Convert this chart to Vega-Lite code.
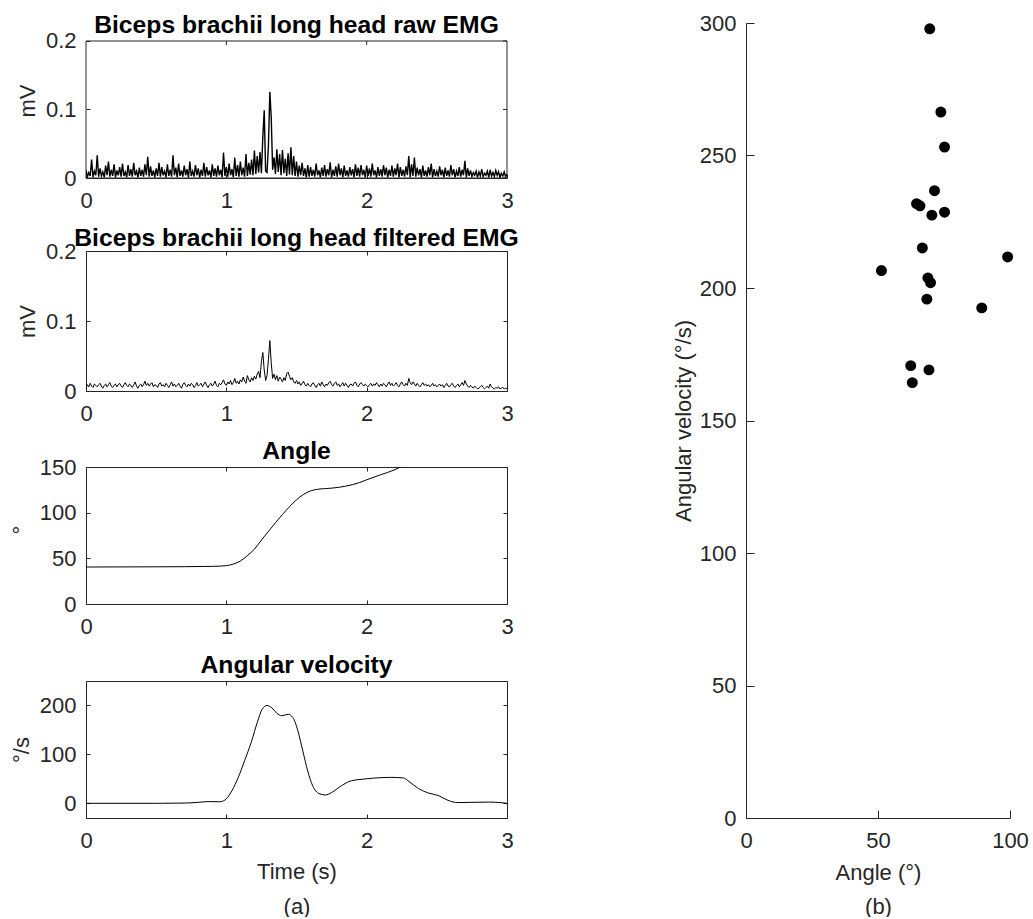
{
"$schema": "https://vega.github.io/schema/vega-lite/v6.json",
"padding": {"left": 10, "top": 12, "right": 5, "bottom": 0},
"config": {
  "font": "Liberation Sans",
  "view": {"stroke": null},
  "axis": {"grid": false, "domainColor": "#262626", "tickColor": "#262626", "labelColor": "#262626", "titleColor": "#262626", "labelFontSize": 22, "titleFontSize": 22, "titleFontWeight": "normal", "labelFlush": false, "labelOverlap": false, "domainWidth": 1, "tickWidth": 1},
  "title": {"fontSize": 24.7, "fontWeight": "bold", "color": "#000000", "offset": -8}
},
"datasets": {
"emg": [
{"t":0.00,"r":0.012,"f":0.004},{"t":0.01,"r":0.002,"f":0.009},{"t":0.02,"r":0.008,"f":0.006},{"t":0.03,"r":0.003,"f":0.011},{"t":0.04,"r":0.027,"f":0.007},{"t":0.05,"r":0.001,"f":0.005},{"t":0.06,"r":0.010,"f":0.010},{"t":0.07,"r":0.004,"f":0.008},{"t":0.08,"r":0.033,"f":0.006},{"t":0.09,"r":0.002,"f":0.009},
{"t":0.10,"r":0.014,"f":0.011},{"t":0.11,"r":0.003,"f":0.007},{"t":0.12,"r":0.009,"f":0.004},{"t":0.13,"r":0.001,"f":0.008},{"t":0.14,"r":0.018,"f":0.010},{"t":0.15,"r":0.004,"f":0.006},{"t":0.16,"r":0.024,"f":0.009},{"t":0.17,"r":0.002,"f":0.012},{"t":0.18,"r":0.012,"f":0.007},{"t":0.19,"r":0.003,"f":0.005},
{"t":0.20,"r":0.020,"f":0.008},{"t":0.21,"r":0.001,"f":0.010},{"t":0.22,"r":0.011,"f":0.006},{"t":0.23,"r":0.004,"f":0.009},{"t":0.24,"r":0.016,"f":0.011},{"t":0.25,"r":0.002,"f":0.007},{"t":0.26,"r":0.021,"f":0.005},{"t":0.27,"r":0.003,"f":0.009},{"t":0.28,"r":0.009,"f":0.012},{"t":0.29,"r":0.001,"f":0.008},
{"t":0.30,"r":0.019,"f":0.006},{"t":0.31,"r":0.003,"f":0.010},{"t":0.32,"r":0.013,"f":0.008},{"t":0.33,"r":0.002,"f":0.005},{"t":0.34,"r":0.022,"f":0.009},{"t":0.35,"r":0.004,"f":0.013},{"t":0.36,"r":0.010,"f":0.007},{"t":0.37,"r":0.001,"f":0.004},{"t":0.38,"r":0.015,"f":0.008},{"t":0.39,"r":0.003,"f":0.010},
{"t":0.40,"r":0.012,"f":0.006},{"t":0.41,"r":0.002,"f":0.009},{"t":0.42,"r":0.020,"f":0.014},{"t":0.43,"r":0.004,"f":0.008},{"t":0.44,"r":0.031,"f":0.011},{"t":0.45,"r":0.002,"f":0.007},{"t":0.46,"r":0.017,"f":0.010},{"t":0.47,"r":0.003,"f":0.012},{"t":0.48,"r":0.011,"f":0.006},{"t":0.49,"r":0.001,"f":0.009},
{"t":0.50,"r":0.014,"f":0.008},{"t":0.51,"r":0.003,"f":0.005},{"t":0.52,"r":0.022,"f":0.010},{"t":0.53,"r":0.002,"f":0.012},{"t":0.54,"r":0.016,"f":0.007},{"t":0.55,"r":0.004,"f":0.009},{"t":0.56,"r":0.010,"f":0.006},{"t":0.57,"r":0.001,"f":0.011},{"t":0.58,"r":0.020,"f":0.008},{"t":0.59,"r":0.003,"f":0.005},
{"t":0.60,"r":0.012,"f":0.009},{"t":0.61,"r":0.002,"f":0.013},{"t":0.62,"r":0.033,"f":0.007},{"t":0.63,"r":0.004,"f":0.010},{"t":0.64,"r":0.015,"f":0.006},{"t":0.65,"r":0.001,"f":0.008},{"t":0.66,"r":0.021,"f":0.011},{"t":0.67,"r":0.003,"f":0.007},{"t":0.68,"r":0.011,"f":0.004},{"t":0.69,"r":0.002,"f":0.009},
{"t":0.70,"r":0.018,"f":0.012},{"t":0.71,"r":0.004,"f":0.008},{"t":0.72,"r":0.013,"f":0.006},{"t":0.73,"r":0.001,"f":0.010},{"t":0.74,"r":0.024,"f":0.007},{"t":0.75,"r":0.003,"f":0.011},{"t":0.76,"r":0.010,"f":0.009},{"t":0.77,"r":0.002,"f":0.005},{"t":0.78,"r":0.019,"f":0.008},{"t":0.79,"r":0.004,"f":0.012},
{"t":0.80,"r":0.014,"f":0.007},{"t":0.81,"r":0.001,"f":0.009},{"t":0.82,"r":0.012,"f":0.011},{"t":0.83,"r":0.003,"f":0.006},{"t":0.84,"r":0.022,"f":0.010},{"t":0.85,"r":0.002,"f":0.013},{"t":0.86,"r":0.016,"f":0.008},{"t":0.87,"r":0.004,"f":0.005},{"t":0.88,"r":0.011,"f":0.009},{"t":0.89,"r":0.001,"f":0.011},
{"t":0.90,"r":0.020,"f":0.007},{"t":0.91,"r":0.003,"f":0.010},{"t":0.92,"r":0.014,"f":0.014},{"t":0.93,"r":0.002,"f":0.008},{"t":0.94,"r":0.018,"f":0.006},{"t":0.95,"r":0.004,"f":0.011},{"t":0.96,"r":0.012,"f":0.009},{"t":0.97,"r":0.001,"f":0.012},{"t":0.98,"r":0.037,"f":0.016},{"t":0.99,"r":0.003,"f":0.010},
{"t":1.00,"r":0.016,"f":0.008},{"t":1.01,"r":0.002,"f":0.013},{"t":1.02,"r":0.021,"f":0.010},{"t":1.03,"r":0.004,"f":0.015},{"t":1.04,"r":0.013,"f":0.009},{"t":1.05,"r":0.001,"f":0.012},{"t":1.06,"r":0.030,"f":0.018},{"t":1.07,"r":0.003,"f":0.011},{"t":1.08,"r":0.019,"f":0.014},{"t":1.09,"r":0.002,"f":0.010},
{"t":1.10,"r":0.024,"f":0.016},{"t":1.11,"r":0.004,"f":0.013},{"t":1.12,"r":0.015,"f":0.020},{"t":1.13,"r":0.002,"f":0.014},{"t":1.14,"r":0.035,"f":0.011},{"t":1.15,"r":0.003,"f":0.022},{"t":1.16,"r":0.022,"f":0.016},{"t":1.17,"r":0.005,"f":0.013},{"t":1.18,"r":0.027,"f":0.019},{"t":1.19,"r":0.004,"f":0.015},
{"t":1.20,"r":0.040,"f":0.021},{"t":1.21,"r":0.006,"f":0.017},{"t":1.22,"r":0.032,"f":0.024},{"t":1.23,"r":0.008,"f":0.028},{"t":1.24,"r":0.038,"f":0.019},{"t":1.25,"r":0.007,"f":0.042},{"t":1.26,"r":0.060,"f":0.055},{"t":1.27,"r":0.099,"f":0.030},{"t":1.28,"r":0.010,"f":0.015},{"t":1.29,"r":0.008,"f":0.022},
{"t":1.30,"r":0.048,"f":0.045},{"t":1.31,"r":0.126,"f":0.072},{"t":1.32,"r":0.088,"f":0.040},{"t":1.33,"r":0.012,"f":0.018},{"t":1.34,"r":0.030,"f":0.024},{"t":1.35,"r":0.006,"f":0.016},{"t":1.36,"r":0.042,"f":0.022},{"t":1.37,"r":0.009,"f":0.014},{"t":1.38,"r":0.035,"f":0.020},{"t":1.39,"r":0.004,"f":0.017},
{"t":1.40,"r":0.041,"f":0.013},{"t":1.41,"r":0.007,"f":0.019},{"t":1.42,"r":0.028,"f":0.015},{"t":1.43,"r":0.003,"f":0.025},{"t":1.44,"r":0.036,"f":0.027},{"t":1.45,"r":0.005,"f":0.021},{"t":1.46,"r":0.045,"f":0.016},{"t":1.47,"r":0.004,"f":0.019},{"t":1.48,"r":0.032,"f":0.013},{"t":1.49,"r":0.003,"f":0.011},
{"t":1.50,"r":0.024,"f":0.015},{"t":1.51,"r":0.002,"f":0.010},{"t":1.52,"r":0.018,"f":0.013},{"t":1.53,"r":0.004,"f":0.008},{"t":1.54,"r":0.022,"f":0.011},{"t":1.55,"r":0.003,"f":0.014},{"t":1.56,"r":0.014,"f":0.009},{"t":1.57,"r":0.001,"f":0.007},{"t":1.58,"r":0.019,"f":0.011},{"t":1.59,"r":0.002,"f":0.008},
{"t":1.60,"r":0.016,"f":0.006},{"t":1.61,"r":0.003,"f":0.010},{"t":1.62,"r":0.012,"f":0.012},{"t":1.63,"r":0.002,"f":0.008},{"t":1.64,"r":0.021,"f":0.005},{"t":1.65,"r":0.004,"f":0.009},{"t":1.66,"r":0.011,"f":0.011},{"t":1.67,"r":0.001,"f":0.007},{"t":1.68,"r":0.015,"f":0.013},{"t":1.69,"r":0.003,"f":0.009},
{"t":1.70,"r":0.019,"f":0.006},{"t":1.71,"r":0.002,"f":0.010},{"t":1.72,"r":0.013,"f":0.008},{"t":1.73,"r":0.004,"f":0.012},{"t":1.74,"r":0.023,"f":0.014},{"t":1.75,"r":0.001,"f":0.009},{"t":1.76,"r":0.012,"f":0.007},{"t":1.77,"r":0.003,"f":0.011},{"t":1.78,"r":0.017,"f":0.013},{"t":1.79,"r":0.002,"f":0.008},
{"t":1.80,"r":0.021,"f":0.010},{"t":1.81,"r":0.004,"f":0.006},{"t":1.82,"r":0.014,"f":0.009},{"t":1.83,"r":0.001,"f":0.012},{"t":1.84,"r":0.018,"f":0.007},{"t":1.85,"r":0.003,"f":0.011},{"t":1.86,"r":0.011,"f":0.008},{"t":1.87,"r":0.002,"f":0.005},{"t":1.88,"r":0.016,"f":0.009},{"t":1.89,"r":0.004,"f":0.010},
{"t":1.90,"r":0.013,"f":0.007},{"t":1.91,"r":0.001,"f":0.011},{"t":1.92,"r":0.020,"f":0.013},{"t":1.93,"r":0.003,"f":0.008},{"t":1.94,"r":0.015,"f":0.006},{"t":1.95,"r":0.002,"f":0.010},{"t":1.96,"r":0.019,"f":0.012},{"t":1.97,"r":0.004,"f":0.009},{"t":1.98,"r":0.012,"f":0.007},{"t":1.99,"r":0.001,"f":0.010},
{"t":2.00,"r":0.018,"f":0.008},{"t":2.01,"r":0.003,"f":0.006},{"t":2.02,"r":0.014,"f":0.009},{"t":2.03,"r":0.002,"f":0.011},{"t":2.04,"r":0.021,"f":0.007},{"t":2.05,"r":0.004,"f":0.010},{"t":2.06,"r":0.011,"f":0.008},{"t":2.07,"r":0.001,"f":0.012},{"t":2.08,"r":0.016,"f":0.009},{"t":2.09,"r":0.003,"f":0.006},
{"t":2.10,"r":0.013,"f":0.010},{"t":2.11,"r":0.002,"f":0.007},{"t":2.12,"r":0.019,"f":0.011},{"t":2.13,"r":0.004,"f":0.009},{"t":2.14,"r":0.015,"f":0.006},{"t":2.15,"r":0.001,"f":0.010},{"t":2.16,"r":0.012,"f":0.013},{"t":2.17,"r":0.003,"f":0.008},{"t":2.18,"r":0.018,"f":0.011},{"t":2.19,"r":0.002,"f":0.007},
{"t":2.20,"r":0.014,"f":0.009},{"t":2.21,"r":0.004,"f":0.012},{"t":2.22,"r":0.021,"f":0.008},{"t":2.23,"r":0.001,"f":0.006},{"t":2.24,"r":0.016,"f":0.010},{"t":2.25,"r":0.003,"f":0.013},{"t":2.26,"r":0.012,"f":0.009},{"t":2.27,"r":0.002,"f":0.007},{"t":2.28,"r":0.017,"f":0.011},{"t":2.29,"r":0.004,"f":0.008},
{"t":2.30,"r":0.032,"f":0.018},{"t":2.31,"r":0.001,"f":0.012},{"t":2.32,"r":0.020,"f":0.009},{"t":2.33,"r":0.003,"f":0.013},{"t":2.34,"r":0.030,"f":0.010},{"t":2.35,"r":0.002,"f":0.007},{"t":2.36,"r":0.015,"f":0.011},{"t":2.37,"r":0.004,"f":0.008},{"t":2.38,"r":0.013,"f":0.006},{"t":2.39,"r":0.001,"f":0.009},
{"t":2.40,"r":0.018,"f":0.012},{"t":2.41,"r":0.003,"f":0.008},{"t":2.42,"r":0.011,"f":0.010},{"t":2.43,"r":0.002,"f":0.007},{"t":2.44,"r":0.016,"f":0.009},{"t":2.45,"r":0.004,"f":0.006},{"t":2.46,"r":0.021,"f":0.008},{"t":2.47,"r":0.001,"f":0.011},{"t":2.48,"r":0.013,"f":0.007},{"t":2.49,"r":0.003,"f":0.009},
{"t":2.50,"r":0.010,"f":0.006},{"t":2.51,"r":0.002,"f":0.008},{"t":2.52,"r":0.017,"f":0.010},{"t":2.53,"r":0.004,"f":0.007},{"t":2.54,"r":0.012,"f":0.009},{"t":2.55,"r":0.001,"f":0.005},{"t":2.56,"r":0.015,"f":0.008},{"t":2.57,"r":0.003,"f":0.011},{"t":2.58,"r":0.011,"f":0.007},{"t":2.59,"r":0.002,"f":0.006},
{"t":2.60,"r":0.019,"f":0.009},{"t":2.61,"r":0.004,"f":0.011},{"t":2.62,"r":0.013,"f":0.007},{"t":2.63,"r":0.001,"f":0.005},{"t":2.64,"r":0.010,"f":0.008},{"t":2.65,"r":0.003,"f":0.010},{"t":2.66,"r":0.016,"f":0.006},{"t":2.67,"r":0.002,"f":0.009},{"t":2.68,"r":0.012,"f":0.012},{"t":2.69,"r":0.004,"f":0.008},
{"t":2.70,"r":0.025,"f":0.015},{"t":2.71,"r":0.001,"f":0.010},{"t":2.72,"r":0.014,"f":0.007},{"t":2.73,"r":0.003,"f":0.005},{"t":2.74,"r":0.011,"f":0.008},{"t":2.75,"r":0.002,"f":0.006},{"t":2.76,"r":0.008,"f":0.004},{"t":2.77,"r":0.004,"f":0.007},{"t":2.78,"r":0.010,"f":0.005},{"t":2.79,"r":0.001,"f":0.003},
{"t":2.80,"r":0.009,"f":0.004},{"t":2.81,"r":0.003,"f":0.006},{"t":2.82,"r":0.013,"f":0.008},{"t":2.83,"r":0.002,"f":0.005},{"t":2.84,"r":0.007,"f":0.003},{"t":2.85,"r":0.004,"f":0.005},{"t":2.86,"r":0.010,"f":0.007},{"t":2.87,"r":0.001,"f":0.004},{"t":2.88,"r":0.012,"f":0.010},{"t":2.89,"r":0.003,"f":0.006},
{"t":2.90,"r":0.008,"f":0.004},{"t":2.91,"r":0.002,"f":0.003},{"t":2.92,"r":0.011,"f":0.005},{"t":2.93,"r":0.004,"f":0.004},{"t":2.94,"r":0.009,"f":0.006},{"t":2.95,"r":0.001,"f":0.003},{"t":2.96,"r":0.007,"f":0.004},{"t":2.97,"r":0.003,"f":0.005},{"t":2.98,"r":0.009,"f":0.003},{"t":2.99,"r":0.002,"f":0.004},
{"t":3.00,"r":0.006,"f":0.003}
],
"angle": [
{"t":0,"a":40.5},{"t":0.5,"a":40.7},{"t":0.9,"a":41.2},{"t":1.0,"a":42},{"t":1.05,"a":43.7},{"t":1.1,"a":47},{"t":1.15,"a":53},{"t":1.2,"a":60},{"t":1.25,"a":70},{"t":1.3,"a":79.5},{"t":1.35,"a":89},{"t":1.4,"a":98},{"t":1.45,"a":106.5},{"t":1.5,"a":114},{"t":1.55,"a":120},{"t":1.6,"a":123.8},{"t":1.65,"a":125.6},{"t":1.7,"a":126.3},{"t":1.76,"a":127},{"t":1.85,"a":129},{"t":1.95,"a":133},{"t":2.0,"a":136},{"t":2.1,"a":141.5},{"t":2.2,"a":147},{"t":2.24,"a":150},{"t":2.3,"a":153},{"t":2.4,"a":157},{"t":2.5,"a":159.5},{"t":2.6,"a":161},{"t":2.8,"a":161.8},{"t":3.0,"a":162}
],
"vel": [
{"t":0,"w":0},{"t":0.5,"w":0},{"t":0.7,"w":0.5},{"t":0.8,"w":2},{"t":0.87,"w":3.5},{"t":0.95,"w":3.2},{"t":0.98,"w":5},{"t":1.0,"w":9},{"t":1.04,"w":26},{"t":1.085,"w":53},{"t":1.13,"w":87},{"t":1.18,"w":127},{"t":1.22,"w":165},{"t":1.255,"w":192},{"t":1.29,"w":200},{"t":1.325,"w":195},{"t":1.36,"w":184},{"t":1.395,"w":179},{"t":1.44,"w":182},{"t":1.475,"w":175},{"t":1.51,"w":148},{"t":1.545,"w":107},{"t":1.58,"w":66},{"t":1.615,"w":36},{"t":1.66,"w":20},{"t":1.705,"w":17},{"t":1.75,"w":22},{"t":1.82,"w":36},{"t":1.89,"w":46},{"t":1.96,"w":49},{"t":2.05,"w":51.5},{"t":2.17,"w":53},{"t":2.26,"w":52},{"t":2.3,"w":45},{"t":2.37,"w":30},{"t":2.44,"w":21},{"t":2.51,"w":16},{"t":2.58,"w":6},{"t":2.65,"w":1.5},{"t":2.75,"w":2},{"t":2.87,"w":2.5},{"t":2.95,"w":1.5},{"t":3.0,"w":0}
],
"pts": [
{"x":69.6,"y":297.8},{"x":73.8,"y":266.4},{"x":75.2,"y":253.2},{"x":71.4,"y":236.7},{"x":64.6,"y":231.8},{"x":65.9,"y":231},{"x":70.4,"y":227.5},{"x":75.2,"y":228.6},{"x":66.8,"y":215.1},{"x":99.1,"y":211.7},{"x":51.3,"y":206.6},{"x":68.9,"y":203.8},{"x":69.9,"y":202},{"x":68.5,"y":195.8},{"x":89.3,"y":192.5},{"x":62.4,"y":170.7},{"x":69.3,"y":169.1},{"x":63.0,"y":164.3}
],
"xticks": [{"t":1},{"t":2}],
"yticks1": [{"v":0},{"v":0.1},{"v":0.2}]
},
"hconcat": [
{
"vconcat": [
{
"title": {"text": "Biceps brachii long head raw EMG", "offset": -15},
"width": 421, "height": 155,
"layer": [
{"data": {"name": "emg"},
 "mark": {"type": "line", "color": "#000000", "strokeWidth": 1.4, "clip": true},
 "encoding": {
  "x": {"field": "t", "type": "quantitative", "scale": {"domain": [0, 3], "nice": false}, "axis": {"orient": "bottom", "title": null, "values": [0,1,2,3], "format": "~g", "tickSize": -4, "labelPadding": 16}},
  "y": {"field": "r", "type": "quantitative", "scale": {"domain": [0, 0.226277], "nice": false}, "axis": {"orient": "left", "title": "mV", "values": [0,0.1,0.2], "format": "~g", "domain": false, "tickSize": -4, "labelPadding": 14, "titlePadding": 6}}
 }},
{"data": {"values": [{}]},
 "mark": {"type": "rect", "fill": null, "stroke": "#262626", "strokeWidth": 1},
 "encoding": {"x": {"datum": 0}, "x2": {"datum": 3}, "y": {"datum": 0}, "y2": {"datum": 0.2}}},
{"data": {"name": "xticks"},
 "mark": {"type": "rule", "color": "#262626", "strokeWidth": 1},
 "encoding": {"x": {"field": "t", "type": "quantitative"}, "y": {"datum": 0.2}, "y2": {"datum": 0.19416}}},
{"data": {"name": "yticks1"},
 "mark": {"type": "rule", "color": "#262626", "strokeWidth": 1},
 "encoding": {"y": {"field": "v", "type": "quantitative"}, "x": {"datum": 3}, "x2": {"datum": 2.9715}}}
]
},
{
"title": {"text": "Biceps brachii long head filtered EMG", "offset": -11},
"width": 421, "height": 140,
"data": {"name": "emg"},
"layer": [
{"mark": {"type": "line", "color": "#000000", "strokeWidth": 1, "clip": true},
 "encoding": {
  "x": {"field": "t", "type": "quantitative", "scale": {"domain": [0, 3], "nice": false}, "axis": {"orient": "bottom", "title": null, "values": [0,1,2,3], "format": "~g", "tickSize": -4, "labelPadding": 16}},
  "y": {"field": "f", "type": "quantitative", "scale": {"domain": [0, 0.2], "nice": false}, "axis": {"orient": "left", "title": "mV", "values": [0,0.1,0.2], "format": "~g", "tickSize": -4, "labelPadding": 14, "titlePadding": 6}}
 }},
{"mark": {"type": "line", "strokeOpacity": 0},
 "encoding": {
  "x": {"field": "t", "type": "quantitative", "axis": {"orient": "top", "title": null, "values": [0,1,2,3], "labels": false, "tickSize": -4}},
  "y": {"field": "f", "type": "quantitative", "axis": {"orient": "right", "title": null, "values": [0,0.1,0.2], "labels": false, "tickSize": -4}}
 }}
],
"resolve": {"axis": {"x": "independent", "y": "independent"}}
},
{
"title": {"text": "Angle"},
"width": 421, "height": 137,
"data": {"name": "angle"},
"layer": [
{"mark": {"type": "line", "color": "#000000", "strokeWidth": 1, "clip": true, "interpolate": "monotone"},
 "encoding": {
  "x": {"field": "t", "type": "quantitative", "scale": {"domain": [0, 3], "nice": false}, "axis": {"orient": "bottom", "title": null, "values": [0,1,2,3], "format": "~g", "tickSize": -4, "labelPadding": 16}},
  "y": {"field": "a", "type": "quantitative", "scale": {"domain": [0, 150], "nice": false}, "axis": {"orient": "left", "title": "°", "titleAngle": 0, "titleBaseline": "middle", "titleAlign": "center", "values": [0,50,100,150], "tickSize": -4, "labelPadding": 14, "titlePadding": 24}}
 }},
{"mark": {"type": "line", "strokeOpacity": 0},
 "encoding": {
  "x": {"field": "t", "type": "quantitative", "axis": {"orient": "top", "title": null, "values": [0,1,2,3], "labels": false, "tickSize": -4}},
  "y": {"field": "a", "type": "quantitative", "axis": {"orient": "right", "title": null, "values": [0,50,100,150], "labels": false, "tickSize": -4}}
 }}
],
"resolve": {"axis": {"x": "independent", "y": "independent"}}
},
{
"title": {"text": "Angular velocity", "offset": 3},
"width": 421, "height": 137,
"data": {"name": "vel"},
"layer": [
{"mark": {"type": "line", "color": "#000000", "strokeWidth": 1, "clip": true, "interpolate": "monotone"},
 "encoding": {
  "x": {"field": "t", "type": "quantitative", "scale": {"domain": [0, 3], "nice": false}, "axis": {"orient": "bottom", "title": ["Time (s)", "(a)"], "titleLineHeight": 35, "titlePadding": 10, "values": [0,1,2,3], "format": "~g", "tickSize": -4, "labelPadding": 16}},
  "y": {"field": "w", "type": "quantitative", "scale": {"domain": [-30, 250], "nice": false}, "axis": {"orient": "left", "title": "°/s", "values": [0,100,200], "tickSize": -4, "labelPadding": 14, "titlePadding": 6}}
 }},
{"mark": {"type": "line", "strokeOpacity": 0},
 "encoding": {
  "x": {"field": "t", "type": "quantitative", "axis": {"orient": "top", "title": null, "values": [0,1,2,3], "labels": false, "tickSize": -4}},
  "y": {"field": "w", "type": "quantitative", "axis": {"orient": "right", "title": null, "values": [0,100,200], "labels": false, "tickSize": -4}}
 }}
],
"resolve": {"axis": {"x": "independent", "y": "independent"}}
}
],
"spacing": 15
},
{
"width": 264, "height": 795,
"data": {"name": "pts"},
"mark": {"type": "circle", "color": "#000000", "opacity": 1, "size": 120},
"encoding": {
  "x": {"field": "x", "type": "quantitative", "scale": {"domain": [0, 100], "nice": false}, "axis": {"title": ["Angle (°)", "(b)"], "titleLineHeight": 34, "titlePadding": 11, "values": [0,50,100], "tickSize": -8, "labelPadding": 20}},
  "y": {"field": "y", "type": "quantitative", "scale": {"domain": [0, 300], "nice": false}, "axis": {"title": "Angular velocity (°/s)", "values": [0,50,100,150,200,250,300], "tickSize": -8, "labelPadding": 18, "titlePadding": 4}}
}
}
],
"spacing": 153
}
